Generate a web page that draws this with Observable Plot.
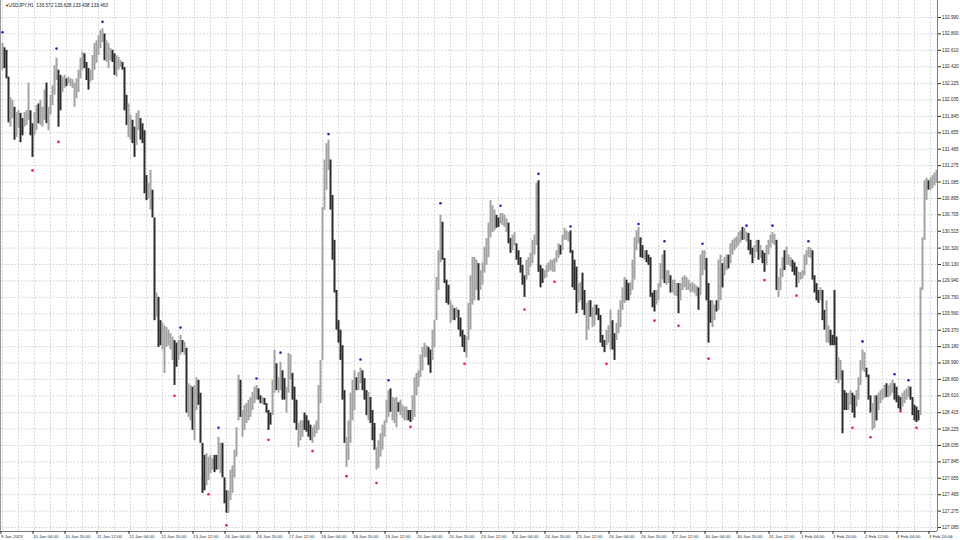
<!DOCTYPE html>
<html><head><meta charset="utf-8">
<script src="https://cdn.jsdelivr.net/npm/d3@7"></script>
<script src="https://cdn.jsdelivr.net/npm/@observablehq/plot@0.6"></script>
<style>
body{margin:0;background:#fff}
#chart{width:960px;height:540px;overflow:hidden}
</style>
</head><body><div id="chart"></div>
<script>
const symbolTitle = "USDJPY,H1";
const lastOHLC = ["133.572", "133.628", "133.438", "133.463"];

const timeLabels = ["9 Jan 2023","10 Jan 04:00","10 Jan 20:00","11 Jan 12:00","12 Jan 04:00","12 Jan 20:00","13 Jan 12:00","16 Jan 04:00","16 Jan 20:00","17 Jan 12:00",
"18 Jan 04:00","18 Jan 20:00","19 Jan 12:00","20 Jan 04:00","20 Jan 20:00","23 Jan 12:00","24 Jan 04:00","24 Jan 20:00","25 Jan 12:00","26 Jan 04:00",
"26 Jan 20:00","27 Jan 12:00","30 Jan 04:00","30 Jan 20:00","31 Jan 12:00","1 Feb 04:00","1 Feb 20:00","2 Feb 12:00","3 Feb 04:00","3 Feb 20:00"];

const priceTicks = [132.990,132.800,132.610,132.420,132.225,132.035,131.845,131.655,131.465,131.275,131.085,130.895,130.705,130.515,130.320,130.130,
129.940,129.750,129.560,129.370,129.180,128.990,128.800,128.610,128.415,128.225,128.035,127.845,127.655,127.465,127.275,127.085];

// hourly bars, 9 Jan 12:00 .. 3 Feb 23:00
const highs = [
132.69,132.64,132.61,132.30,132.06,132.03,131.95,131.89,131.91,131.88,
131.82,131.89,131.91,132.23,131.91,131.76,131.89,131.97,131.99,132.03,
131.95,132.15,132.23,131.95,132.09,132.20,132.43,132.52,132.38,132.32,
132.30,132.32,132.28,132.30,132.28,132.27,132.23,132.28,132.38,132.52,
132.59,132.57,132.47,132.40,132.38,132.55,132.69,132.72,132.78,132.84,
132.86,132.80,132.72,132.69,132.63,132.61,132.57,132.55,132.53,132.49,
132.47,132.41,132.09,131.99,131.86,131.80,131.72,131.88,131.91,131.82,
131.76,131.68,131.16,131.07,131.22,130.99,130.67,129.80,129.75,129.48,
129.45,129.42,129.40,129.37,129.33,129.29,129.25,129.22,129.25,129.31,
129.25,129.23,129.16,128.75,128.73,128.71,128.73,128.82,128.79,128.64,
128.06,127.92,127.94,127.90,127.92,127.88,127.92,127.92,128.13,128.06,
128.06,127.66,127.51,127.51,127.75,127.80,127.98,128.24,128.85,128.79,
128.44,128.50,128.52,128.56,128.59,128.65,128.71,128.73,128.69,128.61,
128.59,128.58,128.52,128.44,128.41,128.79,129.14,128.98,128.82,129.00,
128.90,128.81,128.71,129.10,129.08,128.87,128.71,128.56,128.29,128.32,
128.32,128.41,128.38,128.32,128.27,128.24,128.27,128.32,128.73,129.02,
130.79,131.34,131.53,131.57,131.34,130.93,130.41,129.83,129.48,129.37,
129.19,128.67,128.13,128.32,128.64,128.79,128.90,128.82,128.88,128.93,
128.90,128.81,128.67,128.65,128.59,128.44,128.29,128.01,128.09,128.17,
128.27,128.32,128.56,128.67,128.69,128.59,128.58,128.59,128.53,128.56,
128.50,128.48,128.48,128.44,128.44,128.61,128.82,128.87,128.90,129.08,
129.17,129.22,129.19,129.17,129.14,129.37,129.48,129.98,130.29,130.70,
130.62,130.20,129.95,129.89,129.71,129.66,129.62,129.63,129.60,129.51,
129.37,129.31,129.29,129.68,130.00,130.21,130.21,130.18,130.14,130.06,
130.15,130.33,130.43,130.61,130.87,130.81,130.76,130.70,130.67,130.72,
130.72,130.70,130.66,130.61,130.43,130.47,130.50,130.37,130.29,130.21,
130.12,130.00,130.18,130.21,130.26,130.41,130.47,131.07,131.10,130.12,
130.08,130.06,130.12,130.15,130.18,130.18,130.20,130.29,130.37,130.35,
130.47,130.55,130.52,130.50,130.52,130.29,130.18,130.10,129.91,129.92,
130.03,129.83,129.68,129.71,129.71,129.63,129.66,129.66,129.62,129.54,
129.31,129.25,129.37,129.42,129.60,129.48,129.33,129.45,129.60,129.71,
129.86,129.98,129.95,129.91,129.92,130.18,130.44,130.52,130.56,130.44,
130.35,130.29,130.29,130.24,130.21,129.80,129.83,129.83,129.91,130.14,
130.24,130.29,130.06,130.06,130.00,129.95,129.95,129.91,129.91,129.91,
129.98,130.00,129.98,129.95,129.91,129.92,129.90,129.88,129.86,130.24,
130.29,130.29,130.20,129.91,129.71,129.71,129.66,129.71,130.18,130.24,
130.14,130.21,130.24,130.24,130.37,130.41,130.43,130.45,130.50,130.52,
130.56,130.55,130.50,130.49,130.41,130.32,130.35,130.41,130.41,130.35,
130.29,130.26,130.35,130.41,130.47,130.50,130.48,130.41,129.98,130.08,
130.21,130.29,130.33,130.24,130.21,130.18,130.15,130.10,130.04,130.04,
130.06,130.24,130.29,130.33,130.32,130.29,130.00,129.91,129.83,129.86,
129.83,129.60,129.71,129.42,129.37,129.31,129.83,129.29,129.05,129.02,
128.90,128.67,128.64,128.64,128.67,128.64,128.61,128.67,128.82,129.02,
129.14,129.11,128.93,128.85,128.61,128.52,128.61,128.61,128.64,128.67,
128.69,128.73,128.75,128.73,128.75,128.79,128.75,128.71,128.61,128.59,
128.64,128.67,128.69,128.72,128.71,128.59,128.50,128.48,128.44,129.86,
130.44,131.10,131.13,131.10,131.13,131.16,131.19,131.22];

const lows = [
132.38,132.40,132.28,131.77,131.72,131.82,131.57,131.60,131.71,131.54,
131.62,131.72,131.74,131.80,131.62,131.37,131.62,131.68,131.76,131.74,
131.72,131.80,131.76,131.68,131.86,131.97,132.09,132.26,131.72,131.91,
132.12,132.17,132.19,132.22,132.19,132.17,131.95,132.05,132.12,132.28,
132.38,132.40,132.26,132.15,132.24,132.26,132.38,132.46,132.55,132.63,
132.70,132.49,132.47,132.40,132.49,132.47,132.32,132.30,132.38,132.41,
132.38,131.91,131.74,131.60,131.57,131.53,131.37,131.51,131.68,131.57,
131.53,130.95,130.87,130.89,130.76,130.67,129.48,129.52,129.17,129.19,
129.14,128.87,129.17,129.19,129.14,129.02,128.73,128.94,129.02,129.08,
129.11,129.08,128.41,128.36,128.32,128.21,128.09,128.44,128.50,128.06,
127.48,127.51,127.57,127.63,127.71,127.75,127.72,127.75,127.75,127.71,
127.66,127.36,127.25,127.25,127.40,127.48,127.66,127.90,128.32,128.36,
128.13,128.21,128.29,128.32,128.36,128.44,128.52,128.56,128.56,128.52,
128.51,128.50,128.41,128.21,128.27,128.38,128.64,128.67,128.64,128.67,
128.56,128.56,128.41,128.64,128.79,128.56,128.29,128.21,128.01,128.09,
128.13,128.21,128.19,128.13,128.09,128.06,128.13,128.17,128.21,128.52,
129.02,130.76,130.99,131.22,130.76,130.18,129.80,129.37,129.22,129.02,
128.56,128.06,127.78,127.86,128.06,128.32,128.44,128.67,128.67,128.75,
128.67,128.56,128.38,128.32,128.29,128.09,127.98,127.75,127.77,127.90,
127.98,128.13,128.29,128.36,128.42,128.32,128.29,128.24,128.42,128.38,
128.35,128.32,128.32,128.32,128.30,128.32,128.36,128.61,128.71,128.82,
128.90,129.05,129.05,128.96,128.87,129.02,129.17,129.48,129.83,130.15,
130.18,129.91,129.68,129.66,129.45,129.48,129.48,129.51,129.37,129.29,
129.17,129.11,129.05,129.25,129.37,129.66,129.71,129.83,129.71,129.83,
129.89,130.03,130.12,130.21,130.44,130.50,130.52,130.55,130.56,130.60,
130.58,130.56,130.50,130.37,130.26,130.29,130.35,130.18,130.12,130.03,
129.89,129.75,129.95,130.00,130.10,130.14,130.24,130.35,130.04,129.86,
129.91,129.96,129.98,130.04,130.06,130.04,130.04,130.15,130.20,130.24,
130.29,130.41,130.41,130.39,130.26,129.86,129.83,129.56,129.68,129.71,
129.60,129.54,129.25,129.37,129.52,129.40,129.42,129.54,129.48,129.22,
129.17,129.11,129.19,129.22,129.14,129.14,129.02,129.25,129.33,129.40,
129.60,129.68,129.71,129.71,129.77,129.83,129.95,130.29,130.37,130.21,
130.20,130.18,130.15,130.12,129.75,129.63,129.58,129.66,129.71,129.86,
129.95,129.91,129.89,129.91,129.80,129.80,129.77,129.76,129.56,129.71,
129.83,129.86,129.83,129.83,129.80,129.81,129.79,129.76,129.60,129.77,
130.00,130.06,129.71,129.22,129.45,129.40,129.48,129.58,129.60,129.71,
129.86,130.00,130.06,130.08,130.14,130.24,130.29,130.32,130.35,130.38,
130.41,130.41,130.39,130.29,130.24,130.14,130.20,130.27,130.18,130.20,
130.14,130.04,130.12,130.24,130.32,130.37,130.35,129.83,129.75,129.83,
129.98,130.06,130.12,130.12,130.10,130.04,130.00,129.86,129.91,129.95,
129.96,130.00,130.12,130.21,130.20,129.95,129.80,129.71,129.68,129.71,
129.48,129.37,129.22,129.22,129.19,129.19,129.19,128.79,128.75,128.79,
128.17,128.44,128.44,128.44,128.50,128.41,128.35,128.48,128.56,128.73,
128.90,128.88,128.82,128.56,128.41,128.21,128.23,128.32,128.44,128.52,
128.56,128.58,128.59,128.59,128.61,128.64,128.56,128.53,128.46,128.44,
128.48,128.52,128.56,128.59,128.56,128.38,128.32,128.30,128.32,128.38,
129.83,130.41,130.87,130.99,130.99,131.01,131.04,131.07];

// u = bullish bar, d = bearish bar
const direction = [
"uddduuduud","duuudduudu","uuduuuuudd","uuduuuuuuu","uddduuuuuu","uduuudduuu","ddduudduud","ddduuddudd","uuuuuudduu","duduuduudd",
"dduuuudduu","ddduuuuuud","uuuuuuuudd","udddduuduu","dduuuddduu","udddduuuuu","uuuudddddd","dduuuuuduu","ddduddduuu","uuuuduuudu",
"uuudduuuuu","uuudduuuuu","dddduududd","dduuuuuudu","uuuuuuuddu","uuudduuddd","dduuuuuudd","duuuuuuuud","uuuudddduu","dduuduuddd",
"dduuudduuu","uudduuuuud","duddddduuu","uduuduuudu","uuuuuuuudu","uuddduuduu","duuduuuuuu","duuddduudu","dduuuuuduu","uduuuddduu",
"uuuuuddddu","dduudddduu","ddduudduuu","uuddduuduu","uuduuudddd","uuuudddddu","uuuduuuu"].join("");

// fractal markers: bar number and price
const upFractalBar   = [0,27,50,89,108,127,139,163,179,193,219,249,268,284,318,331,350,372,385,403,430,446,453];
const upFractalPrice = [132.82,132.63,132.94,129.40,128.24,128.81,129.11,131.64,129.03,128.79,130.84,130.81,131.18,130.57,130.60,130.40,130.37,130.58,130.58,130.40,129.24,128.86,128.79];
const downFractalBar   = [15,28,86,103,112,133,155,172,187,204,231,261,276,302,326,338,353,381,397,425,434,449,457];
const downFractalPrice = [131.22,131.55,128.61,127.47,127.11,128.10,127.97,127.68,127.60,128.25,128.98,129.61,129.93,128.98,129.48,129.42,129.04,129.95,129.77,128.24,128.13,128.43,128.24];

if (highs.length !== lows.length || highs.length !== direction.length) {
  throw new Error(`length mismatch: highs ${highs.length} lows ${lows.length} dir ${direction.length}`);
}

const bars = highs.map((h, i) => ({i, high: h, low: lows[i], up: direction[i] === "u"}));
const upF = upFractalBar.map((b, k) => ({i: b, p: upFractalPrice[k]}));
const dnF = downFractalBar.map((b, k) => ({i: b, p: downFractalPrice[k]}));

const n = bars.length;
const labelIdx = timeLabels.map((_, k) => k * 16);
const gridIdx = d3.range(0, n, 8);
const xMin = -1, xMax = n - 0.5;
const yMin = 127.039, yMax = 133.187;
const font = "Liberation Sans, Arial, sans-serif";

const chart = Plot.plot({
  width: 960,
  height: 540,
  marginLeft: 0,
  marginRight: 23,
  marginTop: 0,
  marginBottom: 9,
  x: {domain: [xMin, xMax], axis: null},
  y: {domain: [yMin, yMax], axis: null},
  style: {fontFamily: font, color: "#2a2a2a", background: "#ffffff"},
  marks: [
    Plot.ruleY(priceTicks, {stroke: "#d6d6d6", strokeWidth: 1, strokeDasharray: "2,1.5"}),
    Plot.ruleX(gridIdx, {stroke: "#d6d6d6", strokeWidth: 1, strokeDasharray: "2,1.5"}),
    Plot.ruleX(bars, {x: "i", y1: "low", y2: "high", stroke: d => d.up ? "#a3a3a3" : "#2b2b2b", strokeWidth: 2}),
    Plot.dot(upF, {x: "i", y: "p", r: 1.3, fill: "#2323c8", stroke: null}),
    Plot.dot(dnF, {x: "i", y: "p", r: 1.3, fill: "#e0263f", stroke: null}),
    Plot.ruleX([xMax], {stroke: "#7a7a7a", strokeWidth: 1}),
    Plot.ruleX([xMin], {stroke: "#9a9a9a", strokeWidth: 1}),
    Plot.ruleY([yMin], {stroke: "#7a7a7a", strokeWidth: 1}),
    Plot.axisY(priceTicks, {anchor: "right", tickSize: 3, tickPadding: 1.5, tickFormat: d => d.toFixed(3), fontSize: 4.6}),
    Plot.axisX(labelIdx, {anchor: "bottom", tickSize: 3, tickPadding: 0.8, tickFormat: i => timeLabels[i / 16], textAnchor: "start", dx: -1.5, fontSize: 4.4}),
    Plot.text(["▼"], {frameAnchor: "top-left", dx: 4.5, dy: 3.2, lineAnchor: "top", fontSize: 4, fill: "#222"}),
    Plot.text([symbolTitle + "  " + lastOHLC.join(" ")], {frameAnchor: "top-left", dx: 8, dy: 3, textAnchor: "start", lineAnchor: "top", fontSize: 4.7, fill: "#222"})
  ]
});
document.getElementById("chart").appendChild(chart);
</script>
</body></html>
